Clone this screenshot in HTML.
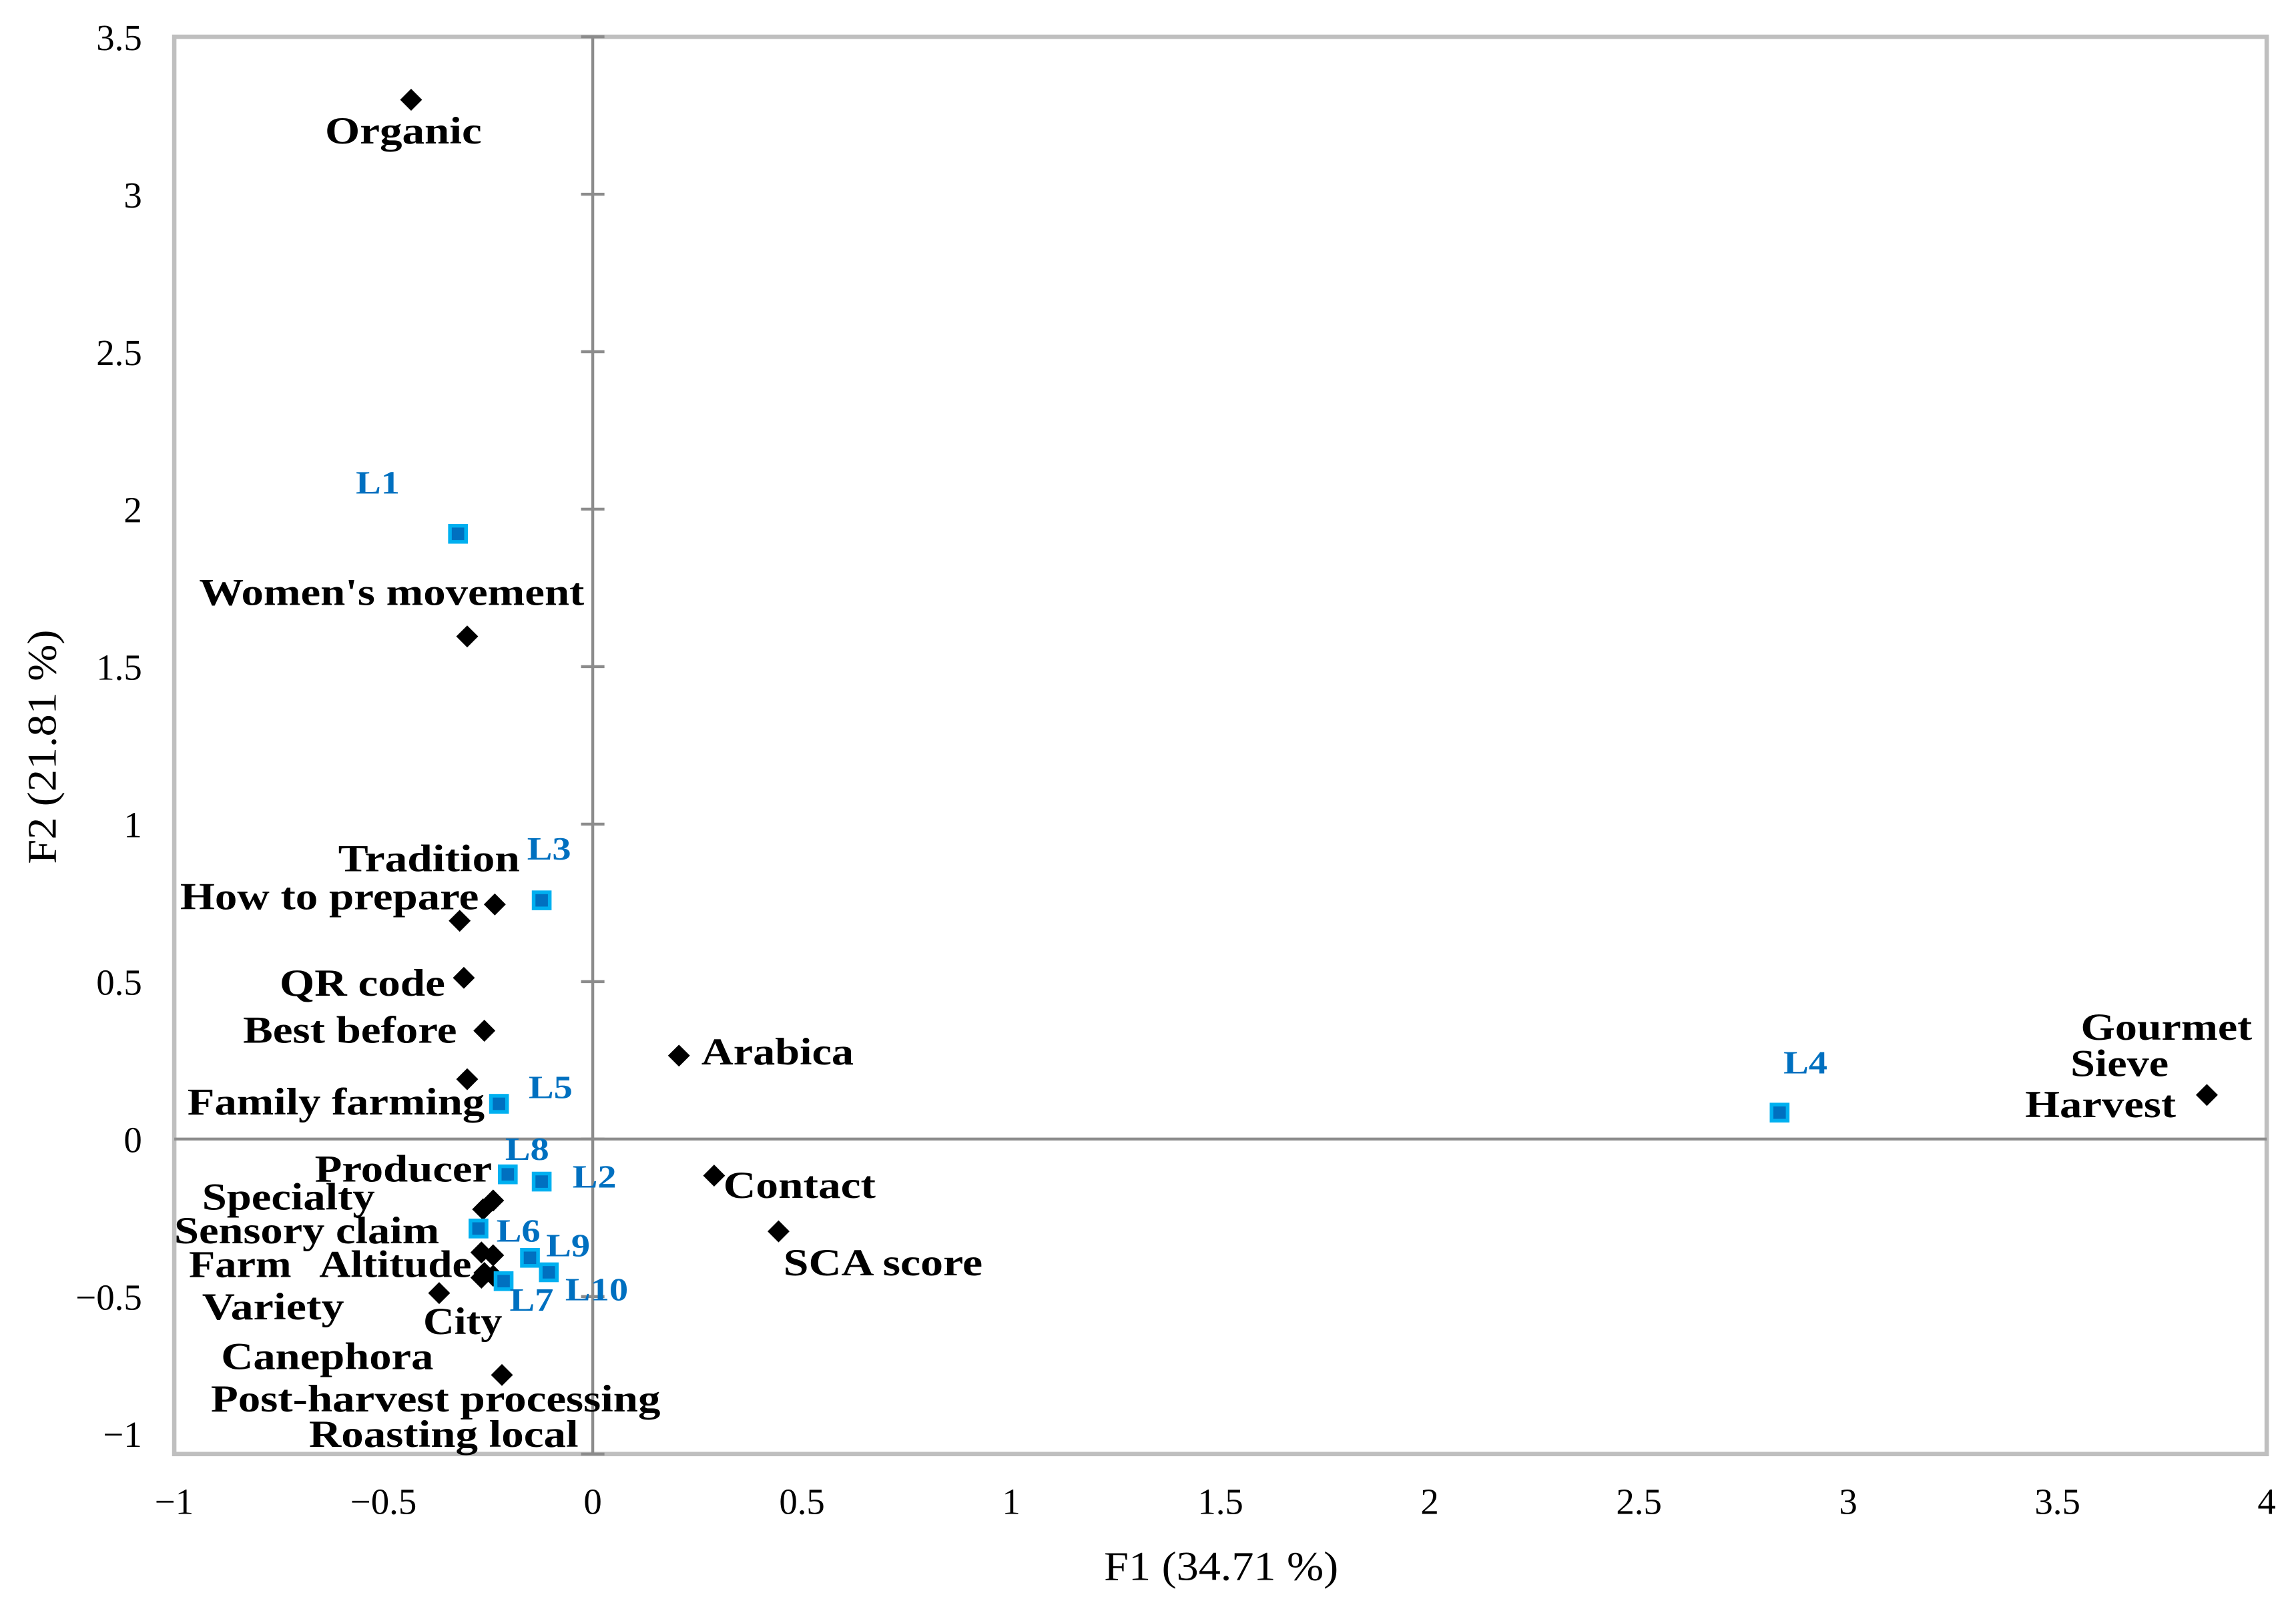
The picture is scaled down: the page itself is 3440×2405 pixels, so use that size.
<!DOCTYPE html>
<html><head><meta charset="utf-8"><style>
html,body{margin:0;padding:0;background:#fff;}
svg{display:block;}
text{font-family:"Liberation Serif",serif;}
</style></head><body>
<svg id="chart" width="3440" height="2405" viewBox="0 0 1568 1096" xmlns="http://www.w3.org/2000/svg"></svg>
<script>
const xTicks=[-1,-0.5,0,0.5,1,1.5,2,2.5,3,3.5,4];
const xTickLabels=["\u22121","\u22120.5","0","0.5","1","1.5","2","2.5","3","3.5","4"];
const yTicks=[-1,-0.5,0,0.5,1,1.5,2,2.5,3,3.5];
const yTickLabels=["\u22121","\u22120.5","0","0.5","1","1.5","2","2.5","3","3.5"];
const varNames=["Organic","Women's movement","Tradition","How to prepare","QR code","Best before","Family farming","Arabica","Gourmet/Sieve/Harvest","Contact","SCA score","Specialty","Specialty-2","Sensory claim","Farm","Altitude","Altitude-2","Altitude-3","Variety","Post-harvest processing"];
const varF1=[-0.434,-0.30,-0.234,-0.318,-0.308,-0.259,-0.30,0.206,3.857,0.29,0.444,-0.238,-0.262,-0.238,-0.266,-0.259,-0.238,-0.266,-0.367,-0.217];
const varF2=[3.30,1.596,0.745,0.693,0.512,0.344,0.19,0.265,0.14,-0.116,-0.293,-0.195,-0.223,-0.369,-0.360,-0.425,-0.434,-0.44,-0.489,-0.749];
const obsNames=["L1","L2","L3","L4","L5","L6","L7","L8","L9","L10"];
const obsF1=[-0.322,-0.122,-0.122,2.836,-0.224,-0.273,-0.213,-0.203,-0.150,-0.105];
const obsF2=[1.922,-0.135,0.758,0.084,0.112,-0.284,-0.451,-0.112,-0.377,-0.423];
const varLabels=[["Organic",222,98,107],["Women's movement",136,413,263],["Tradition",231,595,124],["How to prepare",123,621,204],["QR code",191,680,113],["Best before",166,712,146],["Family farming",128,761,203],["Arabica",479,727,104],["Gourmet",1421,710,117],["Sieve",1414,735,67],["Harvest",1383,763,103],["Producer",215,807,121],["Contact",494,818,104],["Specialty",138,826,118],["Sensory claim",119,849,181],["SCA score",535,871,136],["Farm",129,872,70],["Altitude",218,872,104],["Variety",138,901,97],["City",289,911,54],["Canephora",151,935,145],["Post-harvest processing",144,964,307],["Roasting local",211,988,184]];
const obsLabels=[["L1",243,337,30],["L2",391,811,30],["L3",360,587,30],["L4",1218,733,30],["L5",361,750,30],["L6",339,848,30],["L7",348,895,30],["L8",345,792,30],["L9",373,858,30],["L10",386,888,43]];

const svg=document.getElementById('chart');
const NS="http://www.w3.org/2000/svg";
const X0=119,X1=1548,Y0=25,Y1=993;
const xMin=-1,xMax=4,yMin=-1,yMax=3.5;
const sx=v=>X0+(v-xMin)/(xMax-xMin)*(X1-X0);
const sy=v=>Y1-(v-yMin)/(yMax-yMin)*(Y1-Y0);
function mk(tag,attrs,parent){const e=document.createElementNS(NS,tag);for(const k in attrs)e.setAttribute(k,attrs[k]);(parent||svg).appendChild(e);return e;}

const border=mk('rect',{x:X0,y:Y0,width:X1-X0,height:Y1-Y0,fill:'none',stroke:'#bfbfbf','stroke-width':3});


const hz=mk('line',{x1:X0,x2:X1,y1:sy(0),y2:sy(0),stroke:'#8c8c8c','stroke-width':2});


const vz=mk('line',{x1:sx(0),x2:sx(0),y1:Y0,y2:Y1,stroke:'#8c8c8c','stroke-width':2});



yTicks.forEach((v,i)=>{
  const t=mk('line',{x1:sx(0)-8,x2:sx(0)+8,y1:sy(v),y2:sy(v),stroke:'#8c8c8c','stroke-width':2});
  
  
  const l=mk('text',{x:97,y:Math.min(sy(v)+9,988),'text-anchor':'end','font-size':25,fill:'#000'});
  
  
  l.textContent=yTickLabels[i];
});
xTicks.forEach((v,i)=>{
  const l=mk('text',{x:sx(v),y:1034,'text-anchor':'middle','font-size':25,fill:'#000'});
  
  
  l.textContent=xTickLabels[i];
});
const xt=mk('text',{x:754,y:1079,'font-size':28,fill:'#000',textLength:160,lengthAdjust:'spacingAndGlyphs'});


xt.textContent="F1 (34.71 %)";
const yt=mk('text',{x:-80,y:0,'font-size':28,fill:'#000',textLength:160,lengthAdjust:'spacingAndGlyphs',transform:'translate(38,510) rotate(-90)'});


yt.textContent="F2 (21.81 %)";

varF1.forEach((v,i)=>{
  const cx=sx(v),cy=sy(varF2[i]),r=7.5;
  const d=mk('polygon',{points:`${cx},${cy-r} ${cx+r},${cy} ${cx},${cy+r} ${cx-r},${cy}`,fill:'#000'});
  
  
});
obsF1.forEach((v,i)=>{
  const cx=sx(v),cy=sy(obsF2[i]);
  const s=mk('rect',{x:cx-5.5,y:cy-5.5,width:11,height:11,fill:'#0070c0',stroke:'#00b0f0','stroke-width':2.5});
  
  
});
varLabels.forEach(a=>{
  const t=mk('text',{x:a[1],y:a[2],'font-size':26,'font-weight':'bold',fill:'#000',textLength:a[3],lengthAdjust:'spacingAndGlyphs'});
  
  
  t.textContent=a[0];
});
obsLabels.forEach(a=>{
  const t=mk('text',{x:a[1],y:a[2],'font-size':22,'font-weight':'bold',fill:'#0070c0',textLength:a[3],lengthAdjust:'spacingAndGlyphs'});
  
  
  t.textContent=a[0];
});
</script>
</body></html>
